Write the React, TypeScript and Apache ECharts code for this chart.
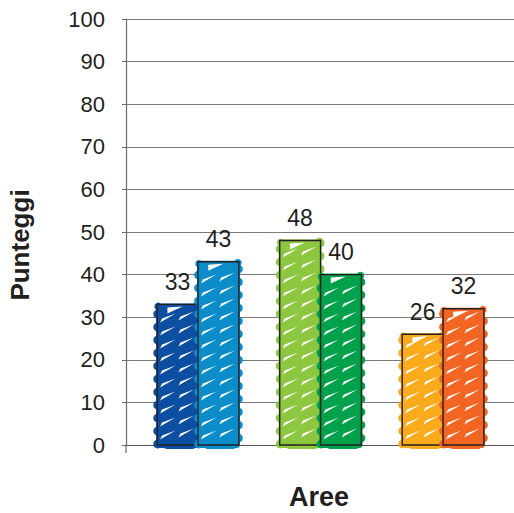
import React, { useEffect, useRef } from "react";
import * as echarts from "echarts";

// Three areas, two scores each
const groupPositions = [0, 1, 2];
const firstScores = [33, 48, 26];
const secondScores = [43, 40, 32];
const firstColors = ["#0b4ea2", "#8dc63f", "#f9ab1c"];
const secondColors = ["#0a8dc9", "#00a14b", "#f26522"];
const yTicks = [0, 10, 20, 30, 40, 50, 60, 70, 80, 90, 100];

const INK = "#231f20";
const FONT = "'Liberation Sans', Arial, sans-serif";

// Crayon-style bar: solid body with bumpy edges, white streaks, thin outline, value label
function makeRenderItem(slot: number, colors: string[]) {
  return (params: any, api: any) => {
    const x = api.value(0);
    const v = api.value(1);
    const top = api.coord([x, v]);
    const base = api.coord([x, 0]);
    const bw = api.size([1, 0])[0] / 3;
    const x0 = slot === 0 ? top[0] - bw : top[0];
    const x1 = x0 + bw;
    const yT = top[1];
    const yB = base[1];
    const h = yB - yT;
    const color = colors[params.dataIndex];

    const children: any[] = [];
    // body
    children.push({
      type: "rect",
      shape: { x: x0 - 1, y: yT - 1, width: bw + 2, height: h + 4, r: 3 },
      style: { fill: color },
    });
    // bumps along both sides
    for (let y = yB - 1; y > yT + 2; y -= 13) {
      children.push({
        type: "circle",
        shape: { cx: x0 + 0.5, cy: y, r: 4.4 },
        style: { fill: color },
      });
      if (y - 6 > yT + 2) {
        children.push({
          type: "circle",
          shape: { cx: x1 - 0.5, cy: y - 6, r: 4.4 },
          style: { fill: color },
        });
      }
    }
    children.push({
      type: "circle",
      shape: { cx: x0 + 1, cy: yT + 2, r: 3.8 },
      style: { fill: color },
    });
    children.push({
      type: "circle",
      shape: { cx: x1 - 1, cy: yT + 1, r: 3.8 },
      style: { fill: color },
    });
    // rounded strokes poking below the base line
    children.push({
      type: "rect",
      shape: { x: x0 + 6, y: yB - 4, width: bw - 8, height: 8, r: 4 },
      style: { fill: color },
    });
    // white streaks left by the crayon
    const len = bw * 0.38;
    for (let y = yB - 6; y - 9 > yT + 3; y -= 13) {
      const a = x0 + bw * 0.07;
      const b = x0 + bw * 0.52;
      children.push({
        type: "polygon",
        shape: { points: [[a, y + 0.5], [a + 2, y - 3.5], [a + len, y - 8.5]] },
        style: { fill: "#ffffff" },
      });
      children.push({
        type: "polygon",
        shape: { points: [[b, y - 1.5], [b + 2, y - 5.5], [b + len, y - 10.5]] },
        style: { fill: "#ffffff" },
      });
    }
    // top notch
    children.push({
      type: "polygon",
      shape: { points: [[x0 + bw * 0.25, yT + 9], [x0 + bw * 0.25, yT + 3], [x0 + bw * 0.62, yT + 2]] },
      style: { fill: "#ffffff" },
    });
    // outline
    children.push({
      type: "rect",
      shape: { x: x0, y: yT, width: bw, height: h },
      style: { fill: null, stroke: INK, lineWidth: 1.4 },
    });
    // value label
    children.push({
      type: "text",
      style: {
        x: (x0 + x1) / 2,
        y: yT - 11,
        text: String(v),
        align: "center",
        verticalAlign: "bottom",
        fill: INK,
        font: `23px ${FONT}`,
      },
    });
    return { type: "group", children };
  };
}

export default function App() {
  const ref = useRef<HTMLDivElement>(null);

  useEffect(() => {
    if (!ref.current) return;
    const chart = echarts.init(ref.current, null, { renderer: "svg" });
    chart.setOption({
      animation: false,
      backgroundColor: "#ffffff",
      grid: { left: 126, right: 0, top: 19, bottom: 68 },
      xAxis: {
        type: "value",
        min: -0.588,
        max: 2.579,
        axisLine: { show: true, onZero: false, lineStyle: { color: "#555", width: 1.2 } },
        axisTick: { show: false },
        axisLabel: { show: false },
        splitLine: { show: false },
      },
      yAxis: {
        type: "value",
        min: yTicks[0],
        max: yTicks[yTicks.length - 1],
        interval: 10,
        axisLine: { show: true, onZero: false, lineStyle: { color: "#6a6a6a", width: 1.2 } },
        axisTick: { show: true, inside: false, length: 4, lineStyle: { color: "#6a6a6a" } },
        axisLabel: { color: INK, fontSize: 22, fontFamily: FONT, margin: 21 },
        splitLine: { show: true, lineStyle: { color: "#7a7a7a", width: 1.2 } },
      },
      graphic: [
        {
          type: "line",
          shape: { x1: 126, y1: 445, x2: 126, y2: 453 },
          style: { stroke: "#6a6a6a", lineWidth: 1.2 },
        },
        {
          type: "text",
          x: 20,
          y: 245,
          rotation: Math.PI / 2,
          style: {
            text: "Punteggi",
            align: "center",
            verticalAlign: "middle",
            fill: INK,
            font: `bold 26px ${FONT}`,
          },
        },
        {
          type: "text",
          x: 319,
          y: 497,
          style: {
            text: "Aree",
            align: "center",
            verticalAlign: "middle",
            fill: INK,
            font: `bold 27px ${FONT}`,
          },
        },
      ],
      series: [
        {
          type: "custom",
          renderItem: makeRenderItem(0, firstColors),
          data: groupPositions.map((g, i) => [g, firstScores[i]]),
          encode: { x: 0, y: 1 },
          z: 2,
        },
        {
          type: "custom",
          renderItem: makeRenderItem(1, secondColors),
          data: groupPositions.map((g, i) => [g, secondScores[i]]),
          encode: { x: 0, y: 1 },
          z: 3,
        },
      ],
    });
    return () => chart.dispose();
  }, []);

  return (
    <div
      ref={ref}
      style={{ position: "fixed", left: 0, top: 0, width: 514, height: 513 }}
    />
  );
}
